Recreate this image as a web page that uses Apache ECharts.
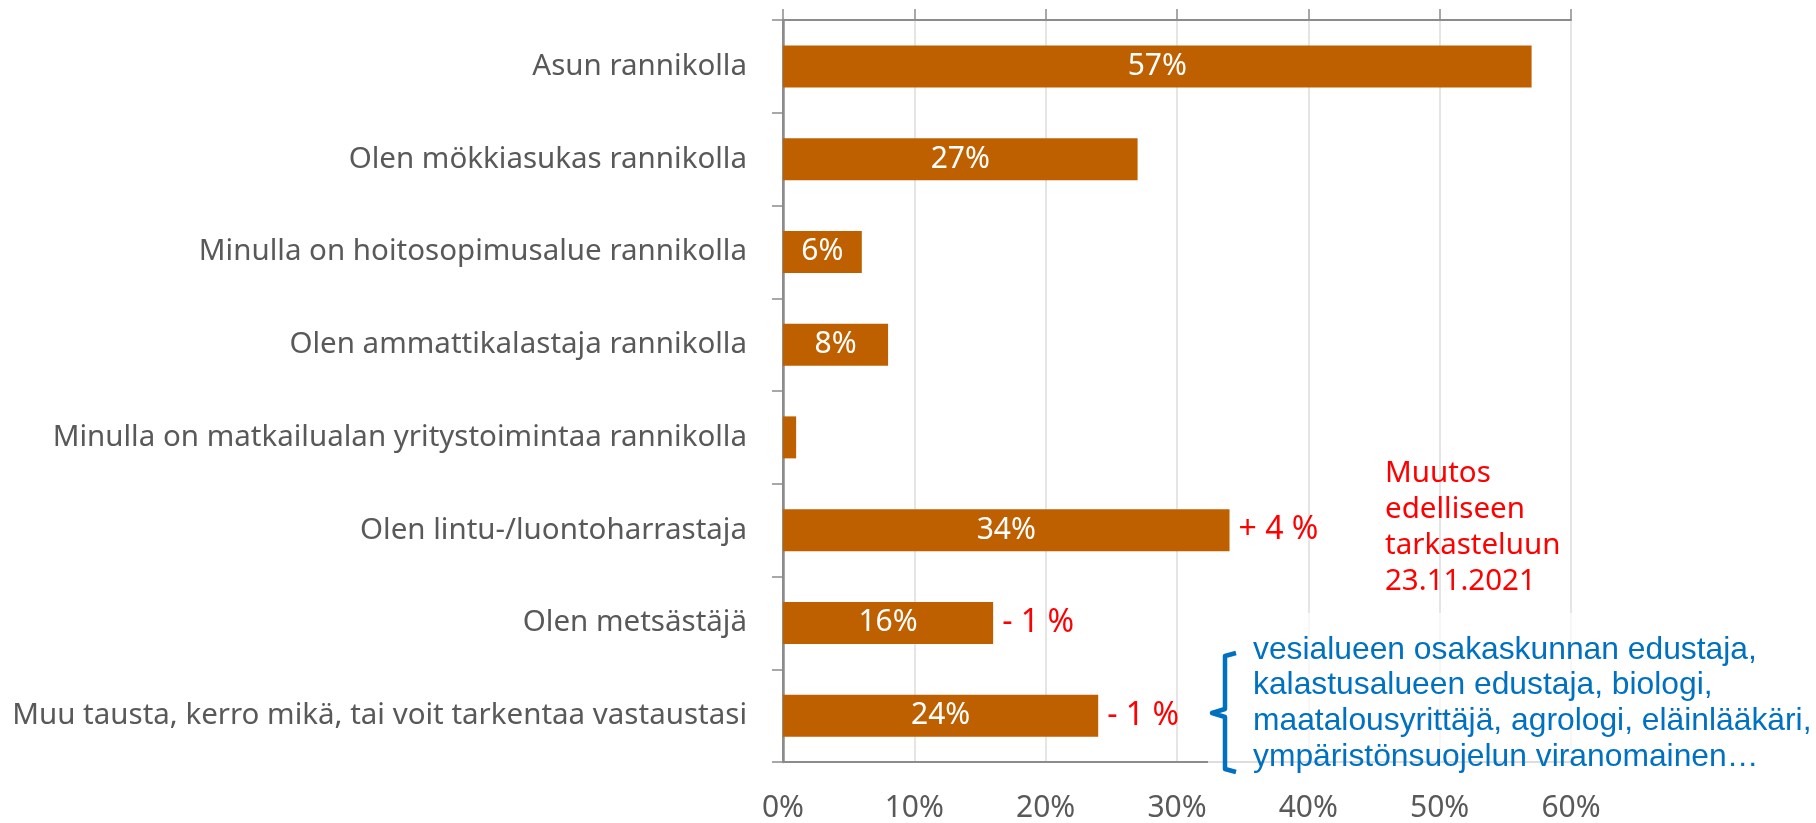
<!DOCTYPE html>
<html>
<head>
<meta charset="utf-8">
<script src="https://cdn.jsdelivr.net/npm/echarts@6/dist/echarts.min.js"></script>
<style>
  html, body { margin: 0; padding: 0; background: #fff; }
  #chart { width: 1816px; height: 823px; }
</style>
</head>
<body>
<div id="chart"></div>
<script>
const categories = [
  'Asun rannikolla',
  'Olen mökkiasukas rannikolla',
  'Minulla on hoitosopimusalue rannikolla',
  'Olen ammattikalastaja rannikolla',
  'Minulla on matkailualan yritystoimintaa rannikolla',
  'Olen lintu-/luontoharrastaja',
  'Olen metsästäjä',
  'Muu tausta, kerro mikä, tai voit tarkentaa vastaustasi'
];
const values = [57, 27, 6, 8, 1, 34, 16, 24];
// bar labels; the tiny bar has none
const valueLabels = ['57%', '27%', '6%', '8%', '', '34%', '16%', '24%'];
const changes = ['', '', '', '', '', '+ 4 %', '- 1 %', '- 1 %'];
const xTicks = [0, 10, 20, 30, 40, 50, 60];

const noteRed = ['Muutos', 'edelliseen', 'tarkasteluun', '23.11.2021'];
const noteBlue = [
  'vesialueen osakaskunnan edustaja,',
  'kalastusalueen edustaja, biologi,',
  'maatalousyrittäjä, agrologi, eläinlääkäri,',
  'ympäristönsuojelun viranomainen…'
];

const font = '"Noto Sans", "Open Sans", sans-serif';
const gray = '#595959';
const axisGray = '#8c8c8c';

const chart = echarts.init(document.getElementById('chart'), null, { renderer: 'canvas' });

const option = {
  backgroundColor: '#fff',
  animation: false,
  grid: { left: 783, right: 245, top: 20, bottom: 61, containLabel: false },
  xAxis: [
    {
      type: 'value',
      position: 'bottom',
      min: xTicks[0],
      max: xTicks[xTicks.length - 1],
      interval: 10,
      axisLine: { show: true, lineStyle: { color: axisGray, width: 2 } },
      axisTick: { show: false },
      splitLine: { show: true, lineStyle: { color: '#dcdcdc', width: 1.5 } },
      axisLabel: {
        margin: 31,
        color: gray,
        fontFamily: font,
        fontSize: 30,
        formatter: v => v + '%'
      }
    },
    {
      type: 'value',
      position: 'top',
      min: xTicks[0],
      max: xTicks[xTicks.length - 1],
      interval: 10,
      axisLine: { show: true, lineStyle: { color: axisGray, width: 2 } },
      axisTick: { show: true, length: 11, lineStyle: { color: axisGray, width: 1.5 } },
      splitLine: { show: false },
      axisLabel: { show: false }
    }
  ],
  yAxis: [
    {
      type: 'category',
      data: categories,
      inverse: true,
      axisLine: { show: true, lineStyle: { color: axisGray, width: 2 } },
      axisTick: { show: true, length: 11, lineStyle: { color: axisGray, width: 1.5 } },
      axisLabel: {
        margin: 36,
        color: gray,
        fontFamily: font,
        fontSize: 29.5
      }
    },
    {
      type: 'category',
      data: categories,
      inverse: true,
      position: 'right',
      axisLine: { show: true, lineStyle: { color: axisGray, width: 2.5 } },
      axisTick: { show: false },
      axisLabel: { show: false }
    }
  ],
  series: [
    {
      type: 'bar',
      data: values,
      barWidth: 42,
      itemStyle: { color: '#BF6000' },
      label: {
        show: true,
        position: 'inside',
        color: '#fff',
        fontFamily: font,
        fontSize: 30,
        formatter: p => valueLabels[p.dataIndex]
      },
      z: 3
    },
    {
      // invisible twin that carries the change labels
      type: 'bar',
      data: values,
      barWidth: 42,
      barGap: '-100%',
      itemStyle: { color: 'rgba(0,0,0,0)' },
      label: {
        show: true,
        position: 'right',
        distance: 9,
        color: '#ff0000',
        fontFamily: font,
        fontSize: 32,
        formatter: p => changes[p.dataIndex]
      },
      z: 4
    }
  ],
  graphic: [
    {
      type: 'text',
      left: 1385,
      top: 455,
      z: 10,
      style: {
        text: noteRed.join('\n'),
        fill: '#ff0000',
        font: '29.5px ' + font,
        lineHeight: 36.3
      }
    },
    {
      type: 'rect',
      shape: { x: 1208, y: 613, width: 608, height: 175 },
      z: 9,
      style: { fill: 'rgba(255,255,255,0.7)' }
    },
    {
      type: 'polyline',
      z: 10,
      shape: {
        points: [[1236, 653], [1225, 656], [1225, 709], [1212, 713], [1225, 717], [1225, 769], [1236, 772]]
      },
      style: { stroke: '#0070C0', lineWidth: 4.5, fill: null, lineJoin: 'round' }
    },
    {
      type: 'text',
      left: 1253,
      top: 632,
      z: 10,
      style: {
        text: noteBlue.join('\n'),
        fill: '#0070C0',
        font: '31.8px "Liberation Sans", Arial, sans-serif',
        lineHeight: 35.8
      }
    }
  ]
};

chart.setOption(option);
</script>
</body>
</html>
